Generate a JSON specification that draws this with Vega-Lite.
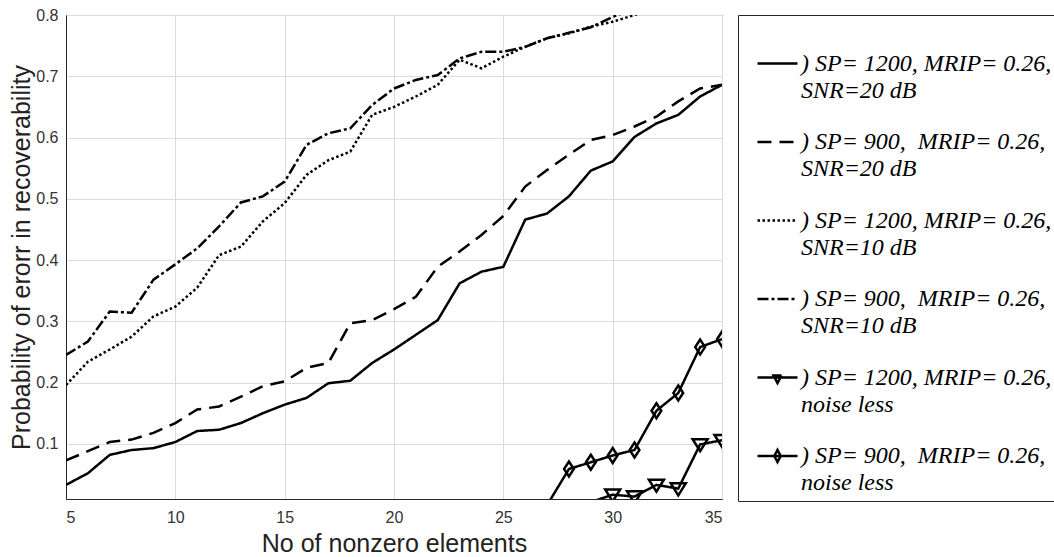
{
  "$schema": "https://vega.github.io/schema/vega-lite/v6.json",
  "width": 656,
  "height": 484,
  "autosize": {"type": "none"},
  "padding": {"left": 66, "top": 15, "right": 332, "bottom": 58},
  "background": "white",
  "config": {
    "view": {"stroke": "#262626", "strokeWidth": 1},
    "axis": {
      "grid": true,
      "gridColor": "#dcdcdc",
      "gridWidth": 1,
      "ticks": false,
      "domainColor": "#262626",
      "domainWidth": 1,
      "labelFont": "Liberation Sans",
      "labelFontSize": 16,
      "labelColor": "#333333",
      "titleFont": "Liberation Sans",
      "titleFontSize": 25,
      "titleFontWeight": "normal",
      "titleColor": "#222222"
    }
  },
  "data": {
    "values": [
      {"x": 5, "y": 0.033, "s": "A"}, {"x": 6, "y": 0.052, "s": "A"}, {"x": 7, "y": 0.082, "s": "A"}, {"x": 8, "y": 0.090, "s": "A"},
      {"x": 9, "y": 0.093, "s": "A"}, {"x": 10, "y": 0.103, "s": "A"}, {"x": 11, "y": 0.121, "s": "A"}, {"x": 12, "y": 0.123, "s": "A"},
      {"x": 13, "y": 0.134, "s": "A"}, {"x": 14, "y": 0.150, "s": "A"}, {"x": 15, "y": 0.164, "s": "A"}, {"x": 16, "y": 0.175, "s": "A"},
      {"x": 17, "y": 0.199, "s": "A"}, {"x": 18, "y": 0.203, "s": "A"}, {"x": 19, "y": 0.232, "s": "A"}, {"x": 20, "y": 0.254, "s": "A"},
      {"x": 21, "y": 0.278, "s": "A"}, {"x": 22, "y": 0.302, "s": "A"}, {"x": 23, "y": 0.362, "s": "A"}, {"x": 24, "y": 0.381, "s": "A"},
      {"x": 25, "y": 0.389, "s": "A"}, {"x": 26, "y": 0.466, "s": "A"}, {"x": 27, "y": 0.476, "s": "A"}, {"x": 28, "y": 0.504, "s": "A"},
      {"x": 29, "y": 0.546, "s": "A"}, {"x": 30, "y": 0.561, "s": "A"}, {"x": 31, "y": 0.601, "s": "A"}, {"x": 32, "y": 0.623, "s": "A"},
      {"x": 33, "y": 0.637, "s": "A"}, {"x": 34, "y": 0.667, "s": "A"}, {"x": 35, "y": 0.686, "s": "A"},

      {"x": 5, "y": 0.073, "s": "B"}, {"x": 6, "y": 0.088, "s": "B"}, {"x": 7, "y": 0.103, "s": "B"}, {"x": 8, "y": 0.107, "s": "B"},
      {"x": 9, "y": 0.118, "s": "B"}, {"x": 10, "y": 0.134, "s": "B"}, {"x": 11, "y": 0.156, "s": "B"}, {"x": 12, "y": 0.161, "s": "B"},
      {"x": 13, "y": 0.177, "s": "B"}, {"x": 14, "y": 0.194, "s": "B"}, {"x": 15, "y": 0.202, "s": "B"}, {"x": 16, "y": 0.224, "s": "B"},
      {"x": 17, "y": 0.232, "s": "B"}, {"x": 18, "y": 0.297, "s": "B"}, {"x": 19, "y": 0.302, "s": "B"}, {"x": 20, "y": 0.320, "s": "B"},
      {"x": 21, "y": 0.340, "s": "B"}, {"x": 22, "y": 0.389, "s": "B"}, {"x": 23, "y": 0.414, "s": "B"}, {"x": 24, "y": 0.441, "s": "B"},
      {"x": 25, "y": 0.472, "s": "B"}, {"x": 26, "y": 0.520, "s": "B"}, {"x": 27, "y": 0.547, "s": "B"}, {"x": 28, "y": 0.572, "s": "B"},
      {"x": 29, "y": 0.596, "s": "B"}, {"x": 30, "y": 0.604, "s": "B"}, {"x": 31, "y": 0.618, "s": "B"}, {"x": 32, "y": 0.634, "s": "B"},
      {"x": 33, "y": 0.659, "s": "B"}, {"x": 34, "y": 0.680, "s": "B"}, {"x": 35, "y": 0.686, "s": "B"},

      {"x": 5, "y": 0.196, "s": "C"}, {"x": 6, "y": 0.234, "s": "C"}, {"x": 7, "y": 0.254, "s": "C"}, {"x": 8, "y": 0.275, "s": "C"},
      {"x": 9, "y": 0.308, "s": "C"}, {"x": 10, "y": 0.324, "s": "C"}, {"x": 11, "y": 0.355, "s": "C"}, {"x": 12, "y": 0.408, "s": "C"},
      {"x": 13, "y": 0.422, "s": "C"}, {"x": 14, "y": 0.463, "s": "C"}, {"x": 15, "y": 0.493, "s": "C"}, {"x": 16, "y": 0.539, "s": "C"},
      {"x": 17, "y": 0.563, "s": "C"}, {"x": 18, "y": 0.577, "s": "C"}, {"x": 19, "y": 0.637, "s": "C"}, {"x": 20, "y": 0.650, "s": "C"},
      {"x": 21, "y": 0.667, "s": "C"}, {"x": 22, "y": 0.686, "s": "C"}, {"x": 23, "y": 0.727, "s": "C"}, {"x": 24, "y": 0.713, "s": "C"},
      {"x": 25, "y": 0.732, "s": "C"}, {"x": 26, "y": 0.748, "s": "C"}, {"x": 27, "y": 0.762, "s": "C"}, {"x": 28, "y": 0.770, "s": "C"},
      {"x": 29, "y": 0.781, "s": "C"}, {"x": 30, "y": 0.789, "s": "C"}, {"x": 31, "y": 0.800, "s": "C"}, {"x": 32, "y": 0.812, "s": "C"},

      {"x": 5, "y": 0.245, "s": "D"}, {"x": 6, "y": 0.267, "s": "D"}, {"x": 7, "y": 0.316, "s": "D"}, {"x": 8, "y": 0.314, "s": "D"},
      {"x": 9, "y": 0.368, "s": "D"}, {"x": 10, "y": 0.393, "s": "D"}, {"x": 11, "y": 0.419, "s": "D"}, {"x": 12, "y": 0.455, "s": "D"},
      {"x": 13, "y": 0.494, "s": "D"}, {"x": 14, "y": 0.504, "s": "D"}, {"x": 15, "y": 0.528, "s": "D"}, {"x": 16, "y": 0.588, "s": "D"},
      {"x": 17, "y": 0.607, "s": "D"}, {"x": 18, "y": 0.615, "s": "D"}, {"x": 19, "y": 0.653, "s": "D"}, {"x": 20, "y": 0.680, "s": "D"},
      {"x": 21, "y": 0.694, "s": "D"}, {"x": 22, "y": 0.702, "s": "D"}, {"x": 23, "y": 0.729, "s": "D"}, {"x": 24, "y": 0.740, "s": "D"},
      {"x": 25, "y": 0.740, "s": "D"}, {"x": 26, "y": 0.748, "s": "D"}, {"x": 27, "y": 0.762, "s": "D"}, {"x": 28, "y": 0.771, "s": "D"},
      {"x": 29, "y": 0.780, "s": "D"}, {"x": 30, "y": 0.797, "s": "D"}, {"x": 31, "y": 0.810, "s": "D"},

      {"x": 29, "y": 0.005, "s": "E"}, {"x": 30, "y": 0.017, "s": "E"}, {"x": 31, "y": 0.014, "s": "E"}, {"x": 32, "y": 0.033, "s": "E"},
      {"x": 33, "y": 0.027, "s": "E"}, {"x": 34, "y": 0.099, "s": "E"}, {"x": 35, "y": 0.106, "s": "E"},

      {"x": 27, "y": 0.0, "s": "F"}, {"x": 28, "y": 0.059, "s": "F"}, {"x": 29, "y": 0.070, "s": "F"}, {"x": 30, "y": 0.081, "s": "F"},
      {"x": 31, "y": 0.090, "s": "F"}, {"x": 32, "y": 0.154, "s": "F"}, {"x": 33, "y": 0.183, "s": "F"}, {"x": 34, "y": 0.258, "s": "F"},
      {"x": 35, "y": 0.271, "s": "F"}
    ]
  },
  "layer": [
    {
      "mark": {"type": "line", "strokeWidth": 2.5, "color": "black", "clip": true},
      "encoding": {
        "x": {
          "field": "x", "type": "quantitative",
          "scale": {"domain": [5, 35], "nice": false, "zero": false},
          "axis": {"title": "No of nonzero elements", "values": [5, 10, 15, 20, 25, 30, 35], "labelPadding": 10, "titlePadding": 6}
        },
        "y": {
          "field": "y", "type": "quantitative",
          "scale": {"domain": [0.01, 0.8], "nice": false, "zero": false},
          "axis": {"title": "Probability of erorr in recoverability", "values": [0.1, 0.2, 0.3, 0.4, 0.5, 0.6, 0.7, 0.8], "format": ".1f", "labelPadding": 8, "titlePadding": 1}
        },
        "strokeDash": {
          "field": "s", "type": "nominal",
          "scale": {
            "domain": ["A", "B", "C", "D", "E", "F"],
            "range": [[1, 0], [14, 8], [2.5, 2.5], [11, 3, 3, 3], [1, 0], [1, 0]]
          },
          "legend": {
            "orient": "none",
            "legendX": 672,
            "legendY": 0,
            "title": " ",
            "titleFontSize": 12,
            "titlePadding": 9,
            "padding": 6,
            "fillColor": "white",
            "strokeColor": "#262626",
            "symbolType": "stroke",
            "symbolSize": 1600,
            "symbolStrokeWidth": 2.5,
            "symbolStrokeColor": "black",
            "symbolOffset": 12,
            "labelFont": "Liberation Serif, Times New Roman, DejaVu Serif, serif",
            "labelFontStyle": "italic",
            "labelFontSize": 24,
            "labelColor": "black",
            "labelLimit": 500,
            "labelOffset": 2,
            "labelBaseline": "middle",
            "rowPadding": 17.5,
            "labelExpr": "datum.value === 'A' ? [') SP= 1200, MRIP= 0.26,', '\u00a0\u00a0SNR=20 dB'] : datum.value === 'B' ? [') SP= 900,\u00a0 MRIP= 0.26,', '\u00a0\u00a0SNR=20 dB'] : datum.value === 'C' ? [') SP= 1200, MRIP= 0.26,', '\u00a0\u00a0SNR=10 dB'] : datum.value === 'D' ? [') SP= 900,\u00a0 MRIP= 0.26,', '\u00a0\u00a0SNR=10 dB'] : datum.value === 'E' ? [') SP= 1200, MRIP= 0.26,', '\u00a0noise less'] : [') SP= 900,\u00a0 MRIP= 0.26,', '\u00a0\u00a0noise less']",
            "encode": {
              "symbols": {
                "update": {
                  "shape": {"signal": "datum.value === 'E' ? 'M-1,0H1M-0.2,-0.1H0.2L0,0.28Z' : datum.value === 'F' ? 'M-1,0H1M0,-0.3L0.16,0L0,0.3L-0.16,0Z' : 'stroke'"},
                  "fill": {"value": "transparent"}
                }
              },
              "labels": {
                "update": {
                  "lineHeight": {"value": 27},
                  "font": {"value": "Liberation Serif, Times New Roman, DejaVu Serif, serif"},
                  "fontStyle": {"value": "italic"},
                  "fontSize": {"value": 24}
                }
              }
            }
          }
        }
      }
    },
    {
      "transform": [{"filter": "datum.y >= 0.01 && (datum.s === 'E' || datum.s === 'F')"}],
      "mark": {"type": "point", "filled": false, "strokeWidth": 2.5, "color": "black", "size": 225, "opacity": 1, "clip": true},
      "encoding": {
        "x": {"field": "x", "type": "quantitative"},
        "y": {"field": "y", "type": "quantitative"},
        "shape": {
          "field": "s", "type": "nominal",
          "scale": {"domain": ["E", "F"], "range": ["M-1,-0.7L1,-0.7L0,0.9Z", "M0,-1L0.65,0L0,1L-0.65,0Z"]},
          "legend": null
        }
      }
    }
  ]
}
